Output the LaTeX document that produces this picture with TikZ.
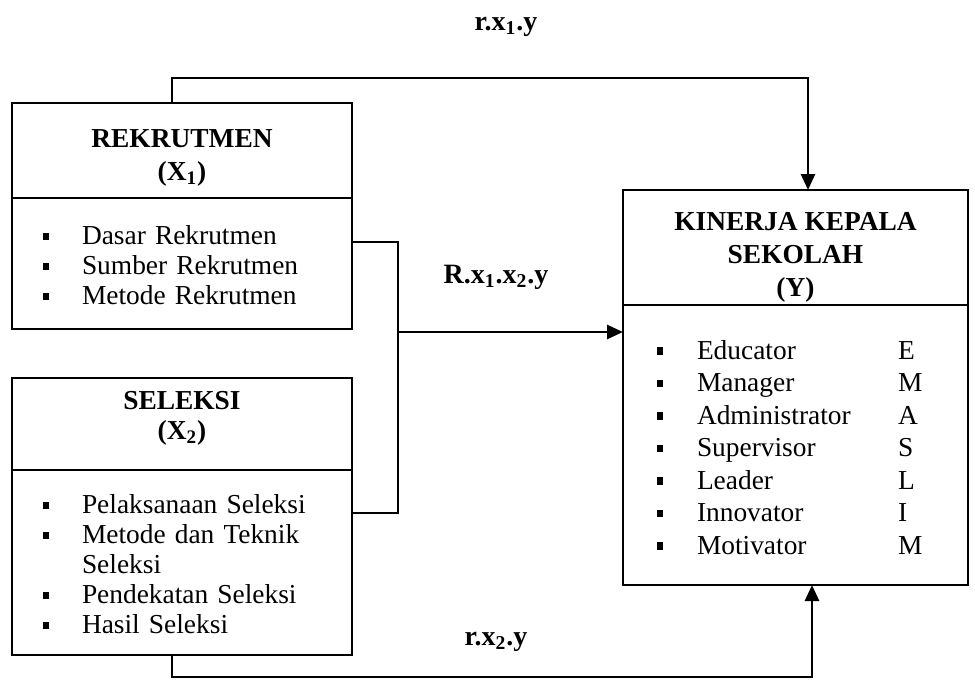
\documentclass[tikz,border=0pt]{standalone}
\usepackage{fontspec}
\setmainfont{Liberation Serif}
\usetikzlibrary{positioning,arrows.meta}

\newcommand{\itm}{\rule[2.2pt]{3.2pt}{3.6pt}}
\setlength{\tabcolsep}{0pt}

\tikzset{
  box/.style={draw,line width=1.4pt,outer sep=0pt,inner sep=0pt,
    font=\fontsize{13.7}{15}\selectfont},
  titlebox/.style={box,align=center,font=\fontsize{13.7}{16.5}\selectfont\bfseries},
  listbox/.style={box,align=left,inner xsep=15.5pt},
  line/.style={line width=1.4pt},
  arr/.style={line,-{Triangle[length=8pt,width=7pt]}},
  lbl/.style={anchor=base,font=\fontsize{14}{16}\selectfont\bfseries}
}

\begin{document}
\begin{tikzpicture}[x=0.5pt,y=-0.5pt]
  \useasboundingbox (0,0) rectangle (975,681);

  % left boxes
  \node[titlebox,anchor=north west,minimum width=170pt,minimum height=47.5pt]
    (rekrutmen) at (12,103) {\rule{0pt}{16.5pt}REKRUTMEN\\(X\textsubscript{1})};
  \node[listbox,below=0pt of rekrutmen,minimum width=170pt,minimum height=65.5pt,text width=139pt]
    (rekrutmenList) {\begin{tabular}{@{}p{19.5pt}l@{}}
      \rule{0pt}{15.5pt}\itm & Dasar Rekrutmen\\
      \itm & Sumber Rekrutmen\\
      \itm & Metode Rekrutmen
    \end{tabular}};

  \node[titlebox,anchor=north west,minimum width=170pt,minimum height=46pt]
    (seleksi) at (12,378) {SELEKSI\\[-1.5pt](X\textsubscript{2})\rule[-8.5pt]{0pt}{8.5pt}};
  \node[listbox,below=0pt of seleksi,minimum width=170pt,minimum height=92.5pt,text width=139pt]
    (seleksiList) {\begin{tabular}{@{}p{19.5pt}l@{}}
      \rule{0pt}{15.5pt}\itm & Pelaksanaan Seleksi\\
      \itm & Metode dan Teknik\\
           & Seleksi\\
      \itm & Pendekatan Seleksi\\
      \itm & Hasil Seleksi
    \end{tabular}};

  % right box
  \node[titlebox,anchor=north west,minimum width=172.5pt,minimum height=57.5pt]
    (kinerja) at (623,190) {\rule{0pt}{18.5pt}KINERJA KEPALA\\SEKOLAH\\(Y)};
  \node[listbox,below=0pt of kinerja,minimum width=172.5pt,minimum height=140pt,
    inner xsep=17pt,text width=138.5pt]
    (kinerjaList) {\renewcommand{\arraystretch}{1.083}%
    \begin{tabular}{@{}p{20pt}p{100.5pt}l@{}}
      \rule{0pt}{16.4pt}\itm & Educator & E\\
      \itm & Manager & M\\
      \itm & Administrator & A\\
      \itm & Supervisor & S\\
      \itm & Leader & L\\
      \itm & Innovator & I\\
      \itm & Motivator & M
    \end{tabular}};

  % connectors
  \coordinate (t1) at (172,78);
  \coordinate (t2) at (808,78);
  \coordinate (j1) at (398,242);
  \coordinate (j2) at (398,513);
  \coordinate (jm) at (398,332);
  \coordinate (b1) at (172,677);
  \coordinate (b2) at (812,677);

  \draw[arr] (rekrutmen.north -| t1) -- (t1) -- (t2) -- (kinerja.north -| t2);
  \draw[line] (rekrutmenList.east |- j1) -- (j1) -- (j2) -- (seleksiList.east |- j2);
  \draw[arr] (jm) -- (kinerjaList.west |- jm);
  \draw[arr] (seleksiList.south -| b1) -- (b1) -- (b2) -- (kinerjaList.south -| b2);

  % labels
  \node[lbl] (lblA) at (506,30) {r.x\textsubscript{1}.y};
  \node[lbl] (lblB) at (496,283) {R.x\textsubscript{1}.x\textsubscript{2}.y};
  \node[lbl] (lblC) at (496,645) {r.x\textsubscript{2}.y};
\end{tikzpicture}
\end{document}
